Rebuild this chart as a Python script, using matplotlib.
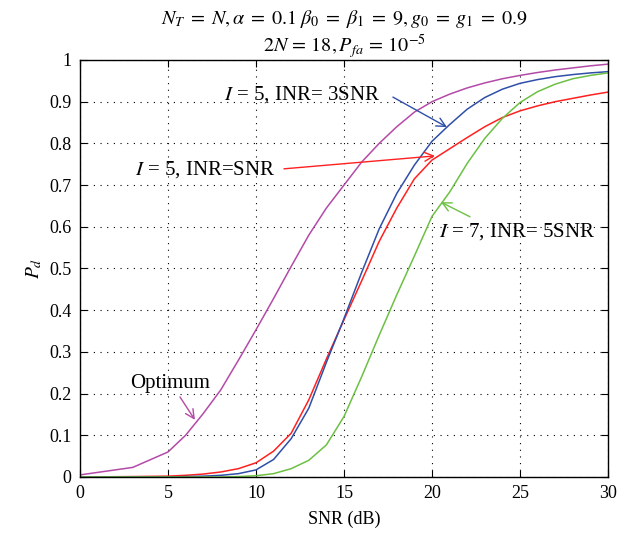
import numpy as np
import matplotlib
matplotlib.use('Agg')
import matplotlib.pyplot as plt

plt.rcParams['font.family'] = ['Liberation Serif', 'DejaVu Serif']
plt.rcParams['mathtext.fontset'] = 'stix'

# SNR grid (dB) and detection probabilities
snr = [0, 3, 5, 6, 7, 8, 9, 10, 11, 12, 13, 14, 15, 16, 17, 18, 19, 20,
       21, 22, 23, 24, 25, 26, 27, 28, 29, 30]
pd_optimum = [0.005, 0.023, 0.06, 0.10, 0.152, 0.209, 0.28, 0.353, 0.428, 0.505, 0.58, 0.645,
              0.70, 0.755, 0.80, 0.84, 0.875, 0.90, 0.918, 0.933, 0.945, 0.955, 0.963,
              0.97, 0.976, 0.981, 0.986, 0.99]
pd_inr_snr = [0.0, 0.001, 0.002, 0.004, 0.007, 0.012, 0.02, 0.034, 0.062, 0.105, 0.185, 0.283,
              0.377, 0.47, 0.565, 0.645, 0.715, 0.76, 0.787, 0.814, 0.84, 0.862, 0.878,
              0.89, 0.9, 0.908, 0.916, 0.923]
pd_inr_3snr = [0.0, 0.0, 0.0, 0.001, 0.002, 0.004, 0.008, 0.017, 0.042, 0.092, 0.165, 0.275,
               0.38, 0.49, 0.595, 0.68, 0.748, 0.805, 0.845, 0.882, 0.91, 0.93, 0.944,
               0.953, 0.96, 0.965, 0.969, 0.972]
pd_inr_5snr = [0.0, 0.0, 0.0, 0.0, 0.0, 0.0, 0.001, 0.003, 0.008, 0.02, 0.04, 0.077,
               0.145, 0.24, 0.34, 0.437, 0.53, 0.625, 0.683, 0.752, 0.812, 0.86, 0.898,
               0.924, 0.942, 0.955, 0.963, 0.969]

fig = plt.figure(figsize=(6.41, 5.38), dpi=100)
ax = fig.add_axes([0.1248, 0.1134, 0.8237, 0.7751])

lw = 1.1
ax.plot(snr, pd_optimum, color='#b44aa8', lw=lw)
ax.plot(snr, pd_inr_snr, color='#ff2020', lw=lw)
ax.plot(snr, pd_inr_3snr, color='#2f4fa8', lw=lw)
ax.plot(snr, pd_inr_5snr, color='#6cc043', lw=lw)

ax.set_xlim(0, 30)
ax.set_ylim(0, 1)
ax.set_xticks(np.arange(0, 31, 5))
ax.set_yticks(np.arange(0, 1.01, 0.1))
ax.set_yticklabels(['0', '0.1', '0.2', '0.3', '0.4', '0.5', '0.6', '0.7', '0.8', '0.9', '1'])
ax.tick_params(direction='in', labelsize=13, length=5, top=True, right=True, pad=6)
ax.grid(True, linestyle=(0, (1, 5)), color='black', linewidth=0.8)
for s in ax.spines.values():
    s.set_linewidth(1.0)

ax.set_xlabel('SNR (dB)', fontsize=13, labelpad=6)
ax.set_ylabel('$P_d$', fontsize=14, labelpad=4)
ax.set_title('$N_T\\;=\\;N, \\alpha\\;=\\;0.1\\;\\beta_0\\;=\\;\\beta_1\\;=\\;9, g_0\\;=\\;g_1\\;=\\;0.9$\n'
             '$2N\\,=\\,18, P_{fa}\\,=\\,10^{-5}$', fontsize=14.5, linespacing=1.15, pad=5)

# labels
ax.text(17.05, 0.916, '$I$ = 5, INR= 3SNR', fontsize=15, ha='right', va='center')
ax.text(11.1, 0.737, '$I$ = 5, INR=SNR', fontsize=15, ha='right', va='center')
ax.text(20.4, 0.588, '$I$ = 7, INR= 5SNR', fontsize=15, ha='left', va='center')
ax.text(5.1, 0.225, 'Optimum', fontsize=15, ha='center', va='center')

# arrows
arw = dict(arrowstyle='->', lw=1.0, mutation_scale=16, shrinkA=0, shrinkB=0)
ax.annotate('', xy=(20.85, 0.839), xytext=(17.78, 0.911),
            arrowprops=dict(arw, color='#2f4fa8'))
ax.annotate('', xy=(20.17, 0.77), xytext=(11.59, 0.739),
            arrowprops=dict(arw, color='#ff2020'))
ax.annotate('', xy=(20.51, 0.659), xytext=(22.16, 0.624),
            arrowprops=dict(arw, color='#6cc043'))
ax.annotate('', xy=(6.53, 0.137), xytext=(5.68, 0.192),
            arrowprops=dict(arw, color='#b44aa8'))

fig.savefig('out.png', dpi=100)
